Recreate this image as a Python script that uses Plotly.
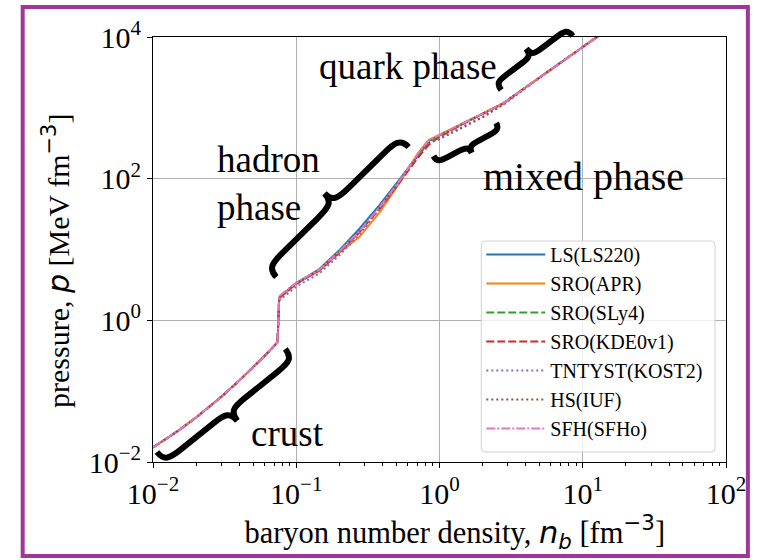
import plotly.graph_objects as go

# ---------------- data ----------------
n_b = [0.01, 0.015, 0.02, 0.03, 0.04, 0.05, 0.06, 0.07, 0.074, 0.076,
       0.1, 0.145, 0.2, 0.275, 0.38, 0.52, 0.71, 0.84, 1.0, 1.5, 2.0,
       2.78, 5.0, 8.0, 13.0]

crust = [0.016, 0.0276, 0.0426, 0.0834, 0.141, 0.217, 0.314, 0.435, 0.49]

p_LS220 = crust + [2.1, 3.35, 5.3, 9.8, 19.5, 42, 95, 222, 340, 408, 615, 820, 1150, 2685, 5250, 10500]
p_APR = crust + [2.0, 3.3, 5.0, 9.0, 15.0, 33, 84, 232, 352, 416, 622, 828, 1160, 2685, 5250, 10500]
p_SLy4 = crust + [2.1, 3.3, 5.1, 9.2, 17.6, 38, 89, 215, 330, 410, 618, 824, 1158, 2685, 5250, 10500]
p_KDE0v1 = crust + [2.1, 3.3, 5.1, 9.1, 17.4, 37, 86, 200, 300, 390, 610, 820, 1155, 2685, 5250, 10500]
p_KOST2 = crust + [1.9, 3.0, 4.6, 8.3, 16.0, 37, 88, 218, 335, 372, 560, 742, 1100, 2685, 5250, 10500]
p_IUF = crust + [2.1, 3.3, 5.1, 9.1, 17.5, 38, 88, 212, 320, 362, 545, 735, 1120, 2685, 5250, 10500]
p_SFHo = crust + [2.2, 3.4, 5.2, 9.4, 18.0, 39, 90, 228, 348, 414, 620, 826, 1159, 2685, 5250, 10500]

series_names = ["LS(LS220)", "SRO(APR)", "SRO(SLy4)", "SRO(KDE0v1)",
                "TNTYST(KOST2)", "HS(IUF)", "SFH(SFHo)"]
series_values = [p_LS220, p_APR, p_SLy4, p_KDE0v1, p_KOST2, p_IUF, p_SFHo]

x_tick_vals = [0.01, 0.1, 1, 10, 100]
x_tick_text = ["10<sup>−2</sup>", "10<sup>−1</sup>", "10<sup>0</sup>",
               "10<sup>1</sup>", "10<sup>2</sup>"]
y_tick_vals = [0.01, 1, 100, 10000]
y_tick_text = ["10<sup>−2</sup>", "10<sup>0</sup>", "10<sup>2</sup>",
               "10<sup>4</sup>"]

# ---------------- styles ----------------
colors = ["#1f77b4", "#ff7f0e", "#2ca02c", "#d62728", "#9467bd",
          "#8c564b", "#e377c2"]
dashes = ["solid", "solid", "8px,3px", "8px,3px", "2px,3px", "2px,3px",
          "9px,2px,2px,2px"]

W, H = 758, 560
PL, PR, PT, PB = 153, 729, 37, 462  # plot area in pixels
SERIF = "Liberation Serif, Times New Roman, serif"
MATH = "DejaVu Sans"


def paper(x, y):
    return ((x - PL) / (PR - PL), (PB - y) / (PB - PT))


def brace_path(x0, y0, x1, y1, cx, cy, h, r):
    dx, dy = x1 - x0, y1 - y0
    L = (dx * dx + dy * dy) ** 0.5
    ux, uy = dx / L, dy / L
    nx, ny = -uy, ux
    mx, my = (x0 + x1) / 2, (y0 + y1) / 2
    if (cx - mx) * nx + (cy - my) * ny < 0:
        nx, ny = -nx, -ny

    def P(u, v):
        px = x0 + u * ux + v * nx
        py = y0 + u * uy + v * ny
        a, b = paper(px, py)
        return f"{a:.5f},{b:.5f}"

    h2 = h / 2
    return (f"M {P(0, 0)} C {P(0, h2 * 0.9)} {P(r * 0.3, h2)} {P(r, h2)} L {P(L / 2 - r, h2)} "
            f"C {P(L / 2 - r * 0.3, h2)} {P(L / 2, h2 * 1.1)} {P(L / 2, h)} "
            f"C {P(L / 2, h2 * 1.1)} {P(L / 2 + r * 0.3, h2)} {P(L / 2 + r, h2)} "
            f"L {P(L - r, h2)} C {P(L - r * 0.3, h2)} {P(L, h2 * 0.9)} {P(L, 0)}")


fig = go.Figure()
for i, (name, vals) in enumerate(zip(series_names, series_values)):
    fig.add_trace(go.Scatter(
        x=n_b, y=vals, mode="lines", name=name,
        line=dict(color=colors[i], width=2, dash=dashes[i]),
    ))

braces = [
    (277, 277, 410, 147, 325, 195, 26, 22),   # hadron
    (157, 452, 286, 349, 238, 420, 26, 20),   # crust
    (435, 156, 498, 123, 472, 153, 15, 12),   # mixed
    (503, 90, 575, 36, 523, 53, 18, 12),      # quark
]
shapes = []
# legend frame (semi-transparent, rounded)
lx0, ly0 = paper(483, 452)
lx1, ly1 = paper(718, 241)
rx, ry = 4 / (PR - PL), 4 / (PB - PT)
shapes.append(dict(
    type="path", xref="paper", yref="paper", layer="above",
    path=(f"M {lx0 + rx},{ly0} L {lx1 - rx},{ly0} Q {lx1},{ly0} {lx1},{ly0 + ry} "
          f"L {lx1},{ly1 - ry} Q {lx1},{ly1} {lx1 - rx},{ly1} L {lx0 + rx},{ly1} "
          f"Q {lx0},{ly1} {lx0},{ly1 - ry} L {lx0},{ly0 + ry} Q {lx0},{ly0} {lx0 + rx},{ly0} Z"),
    fillcolor="rgba(255,255,255,0.8)", line=dict(color="#d0d0d0", width=1)))

for b in braces:
    shapes.append(dict(type="path", path=brace_path(*b), xref="paper", yref="paper",
                       line=dict(color="black", width=6), layer="above"))

# purple frame around the figure
fx0, fy0 = paper(22, 7)
fx1, fy1 = paper(751, 556)
shapes.append(dict(type="rect", xref="paper", yref="paper", x0=fx0, y0=fy0, x1=fx1, y1=fy1,
                   line=dict(color="#a0369a", width=4), layer="above"))

ann = []
for text, (x, y), size in [("quark phase", (318, 66), 37), ("hadron<br>phase", (215, 183), 37),
                           ("mixed phase", (483, 176), 40), ("crust", (250, 433), 37)]:
    a, b = paper(x, y)
    ann.append(dict(text=text, x=a, y=b, xref="paper", yref="paper",
                    xanchor="left", yanchor="middle", align="left", showarrow=False,
                    font=dict(family=SERIF, size=size, color="black")))

minor_x = [m * 10 ** e for e in range(-2, 2) for m in range(2, 10)]

axis_common = dict(
    type="log", showline=True, linecolor="black", linewidth=1, mirror=True,
    ticks="outside", ticklen=5, tickwidth=1, tickcolor="black",
    showgrid=True, gridcolor="#b0b0b0", gridwidth=1, zeroline=False,
    tickfont=dict(family=SERIF, size=30, color="black"),
)

NB = "&nbsp;"
fig.update_layout(
    width=W, height=H,
    margin=dict(l=PL, r=W - PR, t=PT, b=H - PB),
    paper_bgcolor="white", plot_bgcolor="white",
    showlegend=True,
    legend=dict(x=paper(483, 235)[0], y=paper(483, 235)[1], xanchor="left", yanchor="top",
                bgcolor="rgba(0,0,0,0)", borderwidth=0, itemwidth=59,
                font=dict(family=SERIF, size=20, color="black")),
    xaxis=dict(range=[-2, 2], tickvals=x_tick_vals, ticktext=x_tick_text,
               minor=dict(tickvals=minor_x, ticks="outside", ticklen=3, tickcolor="black",
                          showgrid=False),
               title=dict(text=NB * 4 + f'baryon number density, <span style="font-family:{MATH}"><i>n<sub>b</sub></i></span> [fm<sup><span style="font-family:{MATH}">−3</span></sup>]',
                          font=dict(family=SERIF, size=30.5, color="black"), standoff=10),
               **axis_common),
    yaxis=dict(range=[-2, 4], tickvals=y_tick_vals, ticktext=y_tick_text,
               title=dict(text=f'pressure, <span style="font-family:{MATH}"><i>p</i></span> [MeV fm<sup><span style="font-family:{MATH}">−3</span></sup>]' + NB * 3,
                          font=dict(family=SERIF, size=30, color="black"), standoff=10),
               **axis_common),
    shapes=shapes, annotations=ann,
)

fig.write_html("out.html", post_script="document.body.style.margin='0px';",
               config={"displayModeBar": False})
